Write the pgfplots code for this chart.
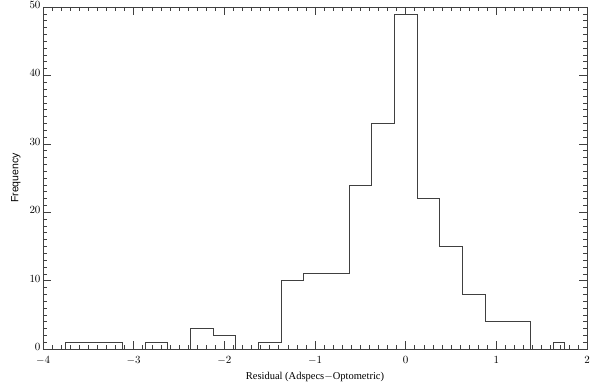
\documentclass[border=0pt]{standalone}
\usepackage{pgfplots}
\pgfplotsset{compat=1.18}
\usepackage{fontspec}
\setmainfont{Liberation Serif}
\setsansfont{Liberation Sans}
\begin{document}
\begin{tikzpicture}
\begin{axis}[
  scale only axis,
  width=544pt, height=342pt,
  xmin=-4, xmax=2, ymin=0, ymax=50,
  xtick={-4,-3,-2,-1,0,1,2},
  ytick={0,10,20,30,40,50},
  minor x tick num=9,
  minor y tick num=9,
  tick align=inside,
  major tick length=8pt,
  minor tick length=4pt,
  axis line style={black!75, line width=0.6pt},
  every tick/.style={black!75, line width=0.5pt},
  tick label style={font=\fontsize{11}{13}\selectfont},
  xticklabel style={yshift=-4pt},
  yticklabel style={xshift=1pt, yshift=2pt},
  xlabel={Residual (Adspecs$-$Optometric)},
  ylabel={\sffamily Frequency},
  xlabel style={font=\fontsize{10.5}{12}\selectfont, yshift=-1pt},
  ylabel style={font=\fontsize{10.5}{12}\selectfont, yshift=2pt},
]
\addplot[const plot mark left, black!75, line width=0.6pt] coordinates {
(-3.75,0)
(-3.75,1)
(-3.125,0)
(-2.875,1)
(-2.625,0)
(-2.375,3)
(-2.125,2)
(-1.875,0)
(-1.625,1)
(-1.375,10)
(-1.125,11)
(-0.625,24)
(-0.375,33)
(-0.125,49)
(0.125,22)
(0.375,15)
(0.625,8)
(0.875,4)
(1.375,0)
(1.625,1)
(1.75,0)
};
\end{axis}
\pgfresetboundingbox
\path ([shift={(-43pt,-40pt)}]current axis.south west) rectangle ([shift={(3pt,7pt)}]current axis.north east);
\end{tikzpicture}
\end{document}
